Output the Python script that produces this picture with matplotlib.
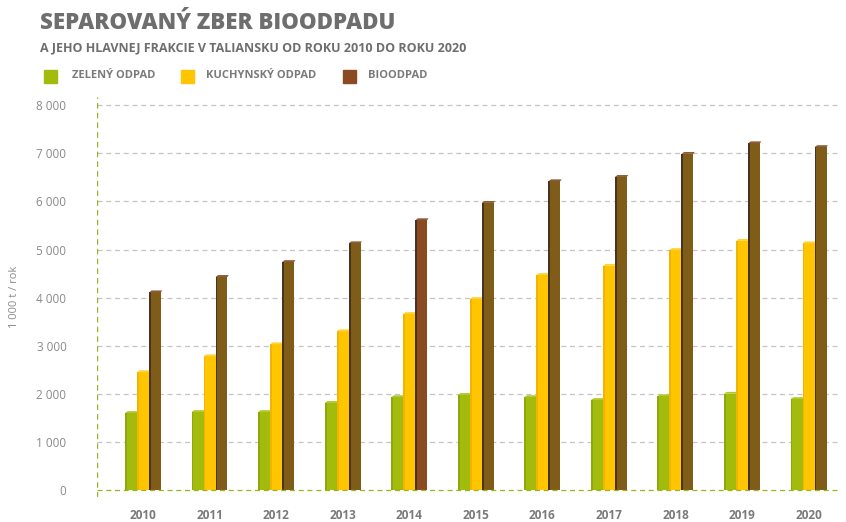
import numpy as np
import matplotlib.pyplot as plt

years = ['2010', '2011', '2012', '2013', '2014', '2015', '2016', '2017', '2018', '2019', '2020']
zeleny = [1600, 1620, 1620, 1810, 1930, 1975, 1930, 1870, 1950, 2000, 1890]
kuchynsky = [2450, 2780, 3030, 3300, 3660, 3970, 4470, 4660, 4990, 5180, 5130]
bioodpad = [4110, 4430, 4740, 5130, 5610, 5970, 6420, 6510, 6990, 7210, 7130]

c_green = '#a3bb0d'
c_yellow = '#ffc500'
c_brown = '#7f5c17'
c_brown14 = '#8a4a22'
grey = '#6e6e6e'

plt.rcParams['font.family'] = ['Open Sans', 'DejaVu Sans']

fig = plt.figure(figsize=(8.46, 5.22), dpi=100)
ax = fig.add_axes([0.1147, 0.0479, 0.878, 0.766])

x = np.arange(len(years))
w = 0.18

def bar3d(xc, h, col, side, top):
    ax.bar(xc, h, w, color=col, zorder=3, linewidth=0)
    # dark left side strip
    ax.bar(xc - w * 0.42, h, w * 0.16, color=side, zorder=4, linewidth=0)
    # top cap
    x0, x1 = xc - w / 2, xc + w / 2
    ax.fill([x0, x0 + 0.04, x1 + 0.02, x1], [h, h + 40, h + 40, h], color=top,
            zorder=4, linewidth=0)

for i in x:
    bar3d(i - w, zeleny[i], c_green, '#8da80a', '#b3c92a')
    bar3d(i, kuchynsky[i], c_yellow, '#f2b400', '#ffd23c')
    cb = c_brown14 if years[i] == '2014' else c_brown
    bar3d(i + w, bioodpad[i], cb, '#4a3220', '#8e5a38')

ax.set_xlim(-0.69, 10.47)
ax.set_ylim(-146, 8170)
ax.set_yticks(np.arange(0, 8001, 1000))
ax.set_yticklabels([('%d' % v) if v < 1000 else '%d 000' % (v // 1000) for v in range(0, 8001, 1000)],
                   color='#8a8a8a', fontsize=8.5)
ax.set_xticks(x)
ax.set_xticklabels(years, color='#7a7a7a', fontsize=8.5, fontweight='bold')
ax.tick_params(length=0, pad=22, axis='y')
ax.tick_params(length=0, pad=9, axis='x')
for s in ax.spines.values():
    s.set_visible(False)
for v in range(1000, 8001, 1000):
    ax.axhline(v, xmin=0.0, color='#c4c4c4', lw=0.9, ls=(0, (4, 3)), zorder=1)
ax.axhline(0, color='#9bb31e', lw=0.9, ls=(0, (4, 3)), zorder=5)
ax.axvline(-0.69, color='#9bb31e', lw=1.0, ls=(0, (4, 3)), zorder=1)
ax.set_ylabel('1 000 t / rok', color='#8a8a8a', fontsize=8, labelpad=12)

fig.text(0.047, 0.955, 'SEPAROVANÝ ZBER BIOODPADU', fontsize=16, fontweight='heavy',
         color=grey, va='center')
fig.text(0.047, 0.909, 'A JEHO HLAVNEJ FRAKCIE V TALIANSKU OD ROKU 2010 DO ROKU 2020',
         fontsize=9, fontweight='bold', color=grey, va='center')

leg = [('ZELENÝ ODPAD', c_green, 44, 72), ('KUCHYNSKÝ ODPAD', c_yellow, 181, 206),
       ('BIOODPAD', c_brown14, 343, 368)]
for lab, col, sx, tx in leg:
    fig.patches.append(plt.Rectangle((sx / 846, (522 - 83) / 522), 13 / 846, 13 / 522,
                                     transform=fig.transFigure, color=col, figure=fig))
    fig.text(tx / 846, (522 - 76) / 522, lab, fontsize=8, fontweight='bold',
             color='#7a7a7a', va='center')

plt.savefig('out.png', dpi=100)
